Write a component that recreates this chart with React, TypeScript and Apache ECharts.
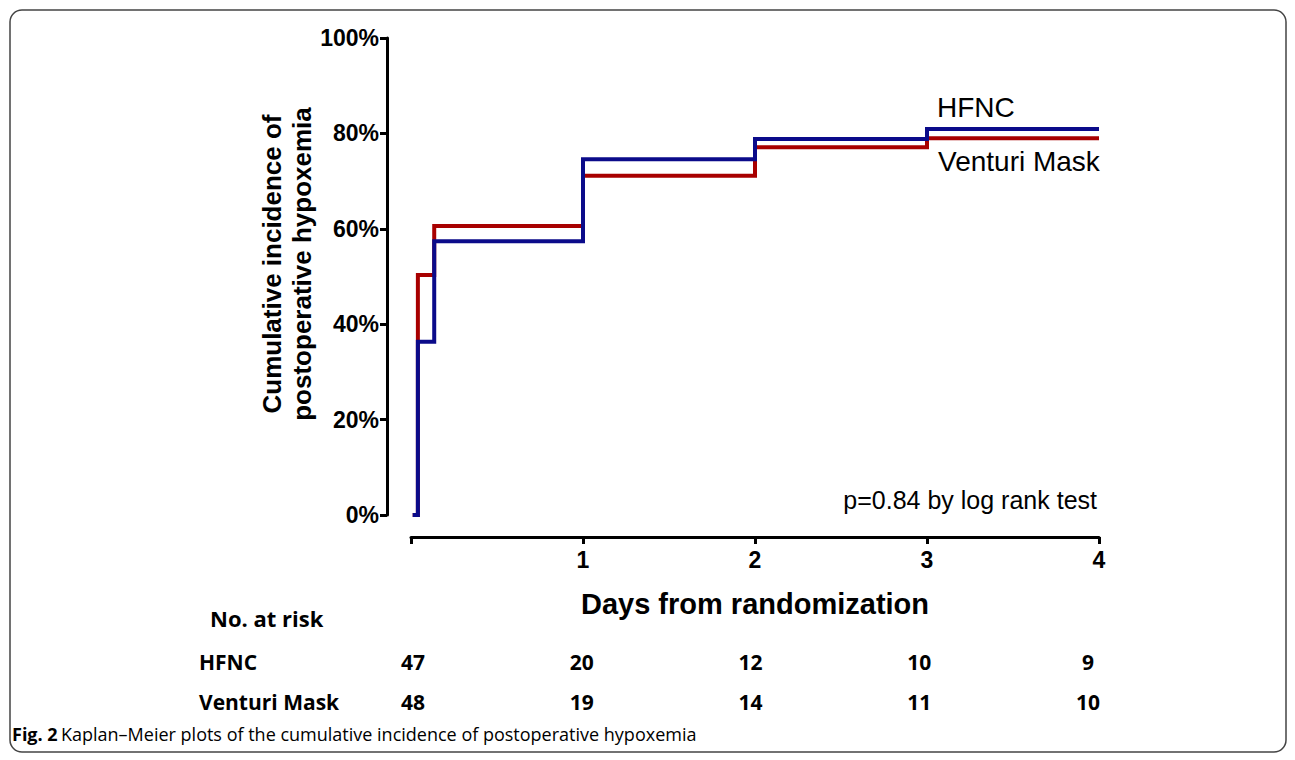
import React, { useEffect, useRef } from "react";
import * as echarts from "echarts";

const hfncCurve: [number, number][] = [
  [0.01, 0], [0.04, 36.3], [0.135, 57.4], [1, 74.6], [2, 78.8], [3, 80.9], [4, 80.9],
];
const venturiCurve: [number, number][] = [
  [0.01, 0], [0.04, 50.3], [0.135, 60.6], [1, 71.1], [2, 77.1], [3, 79.0], [4, 79.0],
];
const riskDays = [0, 1, 2, 3, 4];
const riskGroups = ["HFNC", "Venturi Mask"];
const hfncAtRisk = [47, 20, 12, 10, 9];
const venturiAtRisk = [48, 19, 14, 11, 10];
const yTicks = [0, 20, 40, 60, 80, 100];

const BLUE = "#0b0b8a";
const RED = "#a80000";
const AX = "Liberation Sans, Arial, sans-serif";
const TB = "'Open Sans', sans-serif";

export default function App() {
  const ref = useRef<HTMLDivElement>(null);
  useEffect(() => {
    if (!ref.current) return;
    const chart = echarts.init(ref.current, undefined, { renderer: "svg" });
    const riskData: any[] = [];
    riskDays.forEach((d, i) => {
      riskData.push([d, riskGroups[0], hfncAtRisk[i]]);
      riskData.push([d, riskGroups[1], venturiAtRisk[i]]);
    });
    chart.setOption({
      animation: false,
      backgroundColor: "#fff",
      grid: [
        { left: 411, right: 196, top: 38, bottom: 245 },
        { left: 413, right: 207, top: 642, height: 80 },
      ],
      xAxis: [
        {
          gridIndex: 0,
          type: "value",
          min: 0,
          max: 4,
          interval: 1,
          offset: 22,
          position: "bottom",
          splitLine: { show: false },
          axisLine: { show: true, onZero: false, lineStyle: { color: "#000", width: 3 } },
          axisTick: { show: true, length: 7, lineStyle: { color: "#000", width: 3 } },
          axisLabel: {
            margin: 11,
            fontFamily: AX,
            fontWeight: "bold",
            fontSize: 23,
            color: "#000",
            formatter: (v: number) => (v === 0 ? "" : String(v)),
          },
          name: "Days from randomization",
          nameLocation: "middle",
          nameGap: 52,
          nameTextStyle: { fontFamily: AX, fontWeight: "bold", fontSize: 29, color: "#000" },
        },
        {
          gridIndex: 1,
          type: "value",
          min: 0,
          max: 4,
          show: false,
        },
      ],
      yAxis: [
        {
          gridIndex: 0,
          type: "value",
          min: 0,
          max: 100,
          interval: 20,
          offset: 24,
          position: "left",
          splitLine: { show: false },
          axisLine: { show: true, onZero: false, lineStyle: { color: "#000", width: 3 } },
          axisTick: { show: true, length: 7, lineStyle: { color: "#000", width: 3 } },
          axisLabel: {
            margin: 8,
            fontFamily: AX,
            fontWeight: "bold",
            fontSize: 23,
            color: "#000",
            formatter: (v: number) => (yTicks.includes(v) ? v + "%" : ""),
          },
        },
        {
          gridIndex: 1,
          type: "category",
          data: [riskGroups[1], riskGroups[0]],
          axisLine: { show: false },
          axisTick: { show: false },
          splitLine: { show: false },
          axisLabel: {
            margin: 214,
            align: "left",
            fontFamily: TB,
            fontWeight: "bold",
            fontSize: 21,
            color: "#000",
          },
        },
      ],
      series: [
        {
          type: "line",
          xAxisIndex: 0,
          yAxisIndex: 0,
          step: "end",
          data: venturiCurve,
          symbol: "none",
          lineStyle: { color: RED, width: 4, join: "miter", cap: "butt" },
          z: 2,
        },
        {
          type: "line",
          xAxisIndex: 0,
          yAxisIndex: 0,
          step: "end",
          data: hfncCurve,
          symbol: "none",
          lineStyle: { color: BLUE, width: 4, join: "miter", cap: "butt" },
          z: 3,
        },
        {
          type: "scatter",
          xAxisIndex: 1,
          yAxisIndex: 1,
          data: riskData,
          symbolSize: 0,
          itemStyle: { opacity: 1 },
          label: {
            show: true,
            position: "inside",
            formatter: (p: any) => String(p.value[2]),
            fontFamily: TB,
            fontWeight: "bold",
            fontSize: 21,
            color: "#000",
            opacity: 1,
          },
        },
      ],
      graphic: [
        {
          type: "rect",
          shape: { x: 10, y: 10, width: 1276, height: 742, r: 12 },
          style: { fill: "none", stroke: "#444", lineWidth: 1.5 },
          silent: true,
        },
        {
          type: "text",
          x: 287,
          y: 264,
          rotation: Math.PI / 2,
          style: {
            text: "Cumulative incidence of\npostoperative hypoxemia",
            fontFamily: AX,
            fontWeight: "bold",
            fontSize: 26,
            lineHeight: 30,
            fill: "#000",
            align: "center",
            verticalAlign: "middle",
          },
        },
        {
          type: "text",
          left: 937,
          top: 93,
          style: { text: "HFNC", fontFamily: AX, fontSize: 28, fill: "#000" },
        },
        {
          type: "text",
          left: 938,
          top: 147,
          style: { text: "Venturi Mask", fontFamily: AX, fontSize: 28, fill: "#000" },
        },
        {
          type: "text",
          x: 1097,
          y: 500,
          style: {
            text: "p=0.84 by log rank test",
            fontFamily: AX,
            fontSize: 25,
            fill: "#000",
            align: "right",
            verticalAlign: "middle",
          },
        },
        {
          type: "text",
          left: 210,
          top: 607,
          style: { text: "No. at risk", fontFamily: TB, fontWeight: "bold", fontSize: 22, fill: "#000" },
        },
        {
          type: "text",
          left: 12,
          top: 725,
          style: {
            rich: {
              b: { fontFamily: TB, fontWeight: "bold", fontSize: 18, fill: "#000" },
              n: { fontFamily: TB, fontSize: 18, fill: "#000" },
            },
            text: "{b|Fig. 2} {n|Kaplan–Meier plots of the cumulative incidence of postoperative hypoxemia}",
          },
        },
      ],
    });
    return () => chart.dispose();
  }, []);
  return (
    <div
      ref={ref}
      style={{ position: "fixed", left: 0, top: 0, width: 1295, height: 760 }}
    />
  );
}
